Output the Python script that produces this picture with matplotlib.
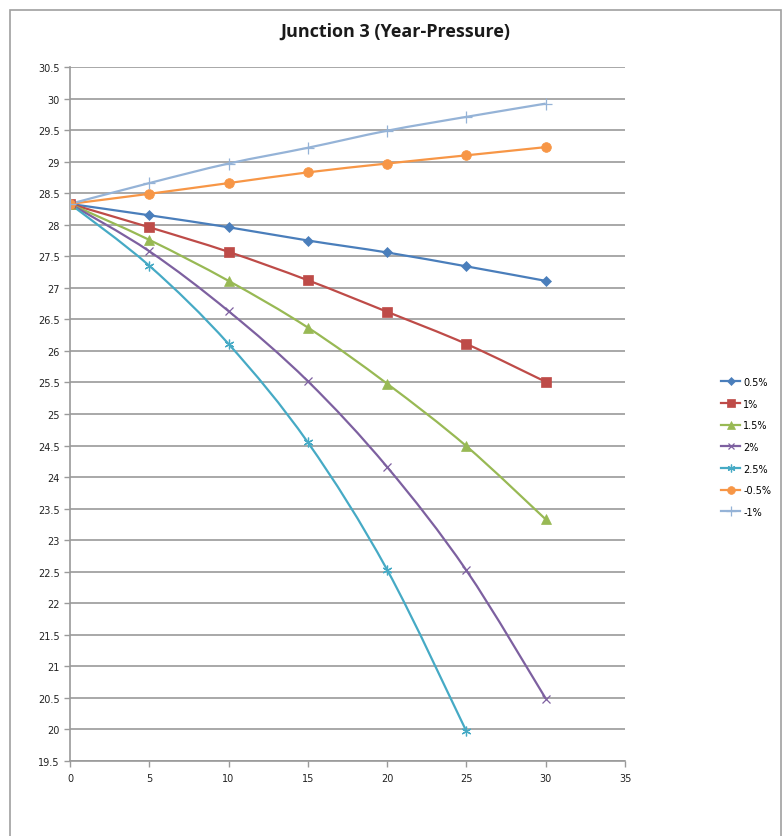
import matplotlib
matplotlib.use("Agg")
import matplotlib.pyplot as plt
from matplotlib.path import Path
from matplotlib.patches import PathPatch, Rectangle
from matplotlib.lines import Line2D

# years and pressure per growth rate
years = [0, 5, 10, 15, 20, 25, 30]
p_05 = [28.33, 28.15, 27.96, 27.75, 27.56, 27.34, 27.11]
p_10 = [28.33, 27.96, 27.57, 27.12, 26.62, 26.11, 25.51]
p_15 = [28.33, 27.76, 27.11, 26.37, 25.48, 24.49, 23.33]
p_20 = [28.33, 27.58, 26.63, 25.52, 24.16, 22.52, 20.49]
p_25 = [28.33, 27.35, 26.11, 24.55, 22.53, 19.97]
p_m05 = [28.33, 28.49, 28.66, 28.83, 28.97, 29.10, 29.23]
p_m10 = [28.33, 28.66, 28.97, 29.22, 29.49, 29.71, 29.92]

labels = ["0.5%", "1%", "1.5%", "2%", "2.5%", "-0.5%", "-1%"]
series = [p_05, p_10, p_15, p_20, p_25, p_m05, p_m10]
colors = ["#4A7EBB", "#BE4B48", "#98B954", "#7D60A0", "#46AAC5", "#F79646", "#95B3D7"]
markers = ["D", "s", "^", "x", (6, 2, 0), "o", "+"]
msizes = [5, 6.5, 7, 6, 7, 7, 9]
thin = ("x", "+", (6, 2, 0))


def smooth_path(xs, ys, tension=1 / 6):
    # Catmull-Rom style Bezier through the points (like Excel smoothed lines)
    pts = list(zip(xs, ys))
    verts = [pts[0]]
    codes = [Path.MOVETO]
    n = len(pts)
    for i in range(n - 1):
        p0 = pts[i - 1] if i > 0 else pts[i]
        p1, p2 = pts[i], pts[i + 1]
        p3 = pts[i + 2] if i + 2 < n else pts[i + 1]
        c1 = (p1[0] + (p2[0] - p0[0]) * tension, p1[1] + (p2[1] - p0[1]) * tension)
        c2 = (p2[0] - (p3[0] - p1[0]) * tension, p2[1] - (p3[1] - p1[1]) * tension)
        verts += [c1, c2, p2]
        codes += [Path.CURVE4] * 3
    return Path(verts, codes)


fig = plt.figure(figsize=(7.84, 8.37), dpi=100)
fig.patches.append(Rectangle((10 / 784, -0.05), 771 / 784, 1.05 - 11 / 837,
                             transform=fig.transFigure, fill=False,
                             edgecolor="#a0a0a0", lw=1.2))

ax = fig.add_axes([70 / 784, 1 - 762 / 837, 555 / 784, 694 / 837])

for ys, lab, c, m, ms in zip(series, labels, colors, markers, msizes):
    xs = years[:len(ys)]
    ax.add_patch(PathPatch(smooth_path(xs, ys), fill=False, edgecolor=c, lw=1.6,
                           zorder=3))
    ax.plot(xs, ys, linestyle="none", marker=m, ms=ms, color=c, mec=c,
            mew=0.9 if m in thin else 0.5, zorder=4)

ax.set_xlim(0, 35)
ax.set_ylim(19.5, 30.5)
ax.set_xticks(range(0, 36, 5))
yt = [19.5 + 0.5 * i for i in range(23)]
ax.set_yticks(yt)
ax.set_yticklabels([f"{v:g}" for v in yt])
ax.grid(True, axis="y", color="#9a9a9a", lw=1.2)
ax.set_axisbelow(True)
for s in ("top", "right"):
    ax.spines[s].set_visible(False)
for s in ("left", "bottom"):
    ax.spines[s].set_color("#9a9a9a")
    ax.spines[s].set_linewidth(1.2)
ax.tick_params(axis="both", colors="#9a9a9a", length=4, width=1,
               labelsize=7, labelcolor="#222222")
ax.tick_params(axis="x", pad=5)

fig.text(395 / 784, 1 - 32 / 837, "Junction 3 (Year-Pressure)", ha="center",
         va="center", fontsize=13, fontweight="bold", family="Open Sans",
         color="#1a1a1a")

handles = [Line2D([], [], color=c, lw=1.6, marker=m, ms=ms * 0.8, mec=c,
                  mew=0.9 if m in thin else 0.5)
           for c, m, ms in zip(colors, markers, msizes)]
fig.legend(handles, labels, loc="upper left", bbox_to_anchor=(716 / 784, 1 - 373 / 837),
           frameon=False, fontsize=7, handlelength=2.0, handletextpad=0.3,
           labelspacing=1.2, borderpad=0)

fig.savefig("out.png", dpi=100, facecolor="white")
